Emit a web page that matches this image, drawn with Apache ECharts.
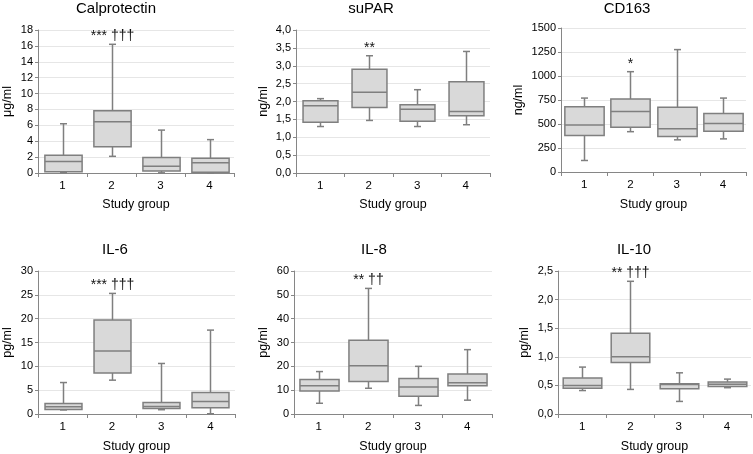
<!DOCTYPE html>
<html>
<head>
<meta charset="utf-8">
<script src="https://cdn.jsdelivr.net/npm/echarts@6/dist/echarts.min.js"></script>
<style>
html,body{margin:0;padding:0;background:#fff;}
#c{width:753px;height:454px;}
</style>
</head>
<body>
<div id="c"></div>
<script>
// ---- data (boxplot stats per study group: [min, Q1, median, Q3, max]) ----
const groups = ['1', '2', '3', '4'];
const panelTitles = ['Calprotectin', 'suPAR', 'CD163', 'IL-6', 'IL-8', 'IL-10'];
const panelUnits = ['μg/ml', 'ng/ml', 'ng/ml', 'pg/ml', 'pg/ml', 'pg/ml'];
const xAxisName = 'Study group';
const axisMax = [18, 4, 1500, 30, 60, 2.5];
const axisInterval = [2, 0.5, 250, 5, 10, 0.5];
const axisDecimals = [0, 1, 0, 0, 0, 1];

const calprotectin = [[0.05, 0.15, 1.45, 2.25, 6.2], [2.1, 3.3, 6.45, 7.85, 16.2], [0.02, 0.25, 0.85, 1.95, 5.4], [0.02, 0.1, 1.3, 1.85, 4.2]];
const suPAR = [[1.3, 1.42, 1.88, 2.02, 2.08], [1.47, 1.83, 2.26, 2.9, 3.28], [1.3, 1.45, 1.78, 1.91, 2.33], [1.35, 1.6, 1.72, 2.55, 3.4]];
const cd163 = [[120, 380, 490, 680, 770], [420, 465, 630, 760, 1045], [335, 370, 450, 675, 1275], [345, 425, 505, 610, 770]];
const il6 = [[0.85, 0.95, 1.5, 2.2, 6.6], [7.1, 8.6, 13.2, 19.7, 25.3], [0.9, 1.15, 1.55, 2.4, 10.6], [0.05, 1.3, 2.6, 4.5, 17.6]];
const il8 = [[4.5, 9.7, 11.9, 14.5, 17.8], [10.8, 13.6, 20.2, 30.9, 52.7], [3.6, 7.5, 11.3, 14.9, 20], [5.8, 11.9, 13.1, 16.8, 27]];
const il10 = [[0.41, 0.45, 0.5, 0.63, 0.82], [0.43, 0.9, 1.0, 1.41, 2.32], [0.22, 0.44, 0.515, 0.53, 0.72], [0.46, 0.48, 0.52, 0.56, 0.61]];

const significance = [
  ['', '*** †††', '', ''],
  ['', '**', '', ''],
  ['', '*', '', ''],
  ['', '*** †††', '', ''],
  ['', '** ††', '', ''],
  ['', '** †††', '', '']
];
const panelData = [calprotectin, suPAR, cd163, il6, il8, il10];

// ---- layout (pixels) ----
const layout = [
  { left: 38, top: 30, width: 196, height: 143, tx: 116, ty: 1, boxFrac: 0.76, yGap: 24, xGap: 25 },
  { left: 296, top: 30, width: 194, height: 143, tx: 371, ty: 1, boxFrac: 0.72, yGap: 26, xGap: 25 },
  { left: 561, top: 28, width: 185, height: 144, tx: 627, ty: 1, boxFrac: 0.85, yGap: 36, xGap: 26 },
  { left: 37, top: 271, width: 198, height: 143, tx: 115, ty: 242, boxFrac: 0.75, yGap: 24, xGap: 26 },
  { left: 294, top: 271, width: 198, height: 143, tx: 374, ty: 242, boxFrac: 0.79, yGap: 24, xGap: 26 },
  { left: 558, top: 271, width: 193, height: 143, tx: 634, ty: 242, boxFrac: 0.8, yGap: 27, xGap: 26 }
];

const FONT = 'Liberation Sans, Arial, sans-serif';
const axisColor = '#868686';
const boxFill = '#d9d9d9';
const boxStroke = '#7f7f7f';

const grids = [], xAxes = [], yAxes = [], titles = [], series = [];

panelData.forEach(function (stats, i) {
  const L = layout[i];
  grids.push({ left: L.left, top: L.top, width: L.width, height: L.height, containLabel: false });
  titles.push({
    text: panelTitles[i], left: L.tx, top: L.ty, textAlign: 'center', padding: 0,
    textStyle: { fontFamily: FONT, fontSize: 15, fontWeight: 'normal', color: '#000' }
  });
  xAxes.push({
    gridIndex: i, type: 'category', data: groups, boundaryGap: true,
    name: xAxisName, nameLocation: 'middle', nameGap: L.xGap,
    nameTextStyle: { fontFamily: FONT, fontSize: 12.5, color: '#000' },
    axisLine: { show: true, lineStyle: { color: axisColor, width: 1 } },
    axisTick: { show: true, length: 4, alignWithLabel: false, lineStyle: { color: axisColor } },
    axisLabel: { fontFamily: FONT, fontSize: 11.5, color: '#000', margin: 7 },
    splitLine: { show: false }
  });
  const dec = axisDecimals[i];
  yAxes.push({
    gridIndex: i, type: 'value', min: 0, max: axisMax[i], interval: axisInterval[i],
    name: panelUnits[i], nameLocation: 'middle', nameGap: L.yGap, nameRotate: 90,
    nameTextStyle: { fontFamily: FONT, fontSize: 12.5, color: '#000' },
    axisLine: { show: true, lineStyle: { color: axisColor, width: 1 } },
    axisTick: { show: true, length: 3, inside: false, lineStyle: { color: axisColor } },
    axisLabel: {
      fontFamily: FONT, fontSize: 11, color: '#000', margin: 5,
      formatter: function (v) { return v.toFixed(dec).replace('.', ','); }
    },
    splitLine: { show: true, lineStyle: { color: '#e6e6e6', width: 1 } }
  });
  const sig = significance[i];
  series.push({
    type: 'custom', xAxisIndex: i, yAxisIndex: i,
    data: stats.map(function (s, k) { return [k].concat(s); }),
    encode: { x: 0, y: [1, 2, 3, 4, 5] },
    renderItem: function (params, api) {
      const k = api.value(0);
      const pMin = api.coord([k, api.value(1)]);
      const pQ1 = api.coord([k, api.value(2)]);
      const pMed = api.coord([k, api.value(3)]);
      const pQ3 = api.coord([k, api.value(4)]);
      const pMax = api.coord([k, api.value(5)]);
      const cx = Math.round(pMed[0]) + 0.5;
      const bw = api.size([1, 0])[0] * L.boxFrac;
      const half = bw / 2;
      const cap = 3.5;
      const lineStyle = { stroke: boxStroke, lineWidth: 1.5 };
      const children = [
        { type: 'line', shape: { x1: cx, y1: pMax[1], x2: cx, y2: pQ3[1] }, style: lineStyle },
        { type: 'line', shape: { x1: cx, y1: pQ1[1], x2: cx, y2: pMin[1] }, style: lineStyle },
        { type: 'line', shape: { x1: cx - cap, y1: pMax[1], x2: cx + cap, y2: pMax[1] }, style: lineStyle },
        { type: 'line', shape: { x1: cx - cap, y1: pMin[1], x2: cx + cap, y2: pMin[1] }, style: lineStyle },
        { type: 'rect', shape: { x: cx - half, y: pQ3[1], width: bw, height: pQ1[1] - pQ3[1] },
          style: { fill: boxFill, stroke: boxStroke, lineWidth: 1.5 } },
        { type: 'line', shape: { x1: cx - half, y1: pMed[1], x2: cx + half, y2: pMed[1] }, style: lineStyle }
      ];
      const label = sig[params.dataIndex];
      if (label) {
        children.push({
          type: 'text',
          style: {
            text: label, x: cx, y: pMax[1] - 8, align: 'center', verticalAlign: 'middle',
            fontFamily: FONT, fontSize: 14, fill: '#111'
          }
        });
      }
      return { type: 'group', children: children };
    }
  });
});

const chart = echarts.init(document.getElementById('c'), null, { renderer: 'canvas' });
chart.setOption({
  backgroundColor: '#ffffff',
  animation: false,
  title: titles,
  grid: grids,
  xAxis: xAxes,
  yAxis: yAxes,
  series: series
});
</script>
</body>
</html>
